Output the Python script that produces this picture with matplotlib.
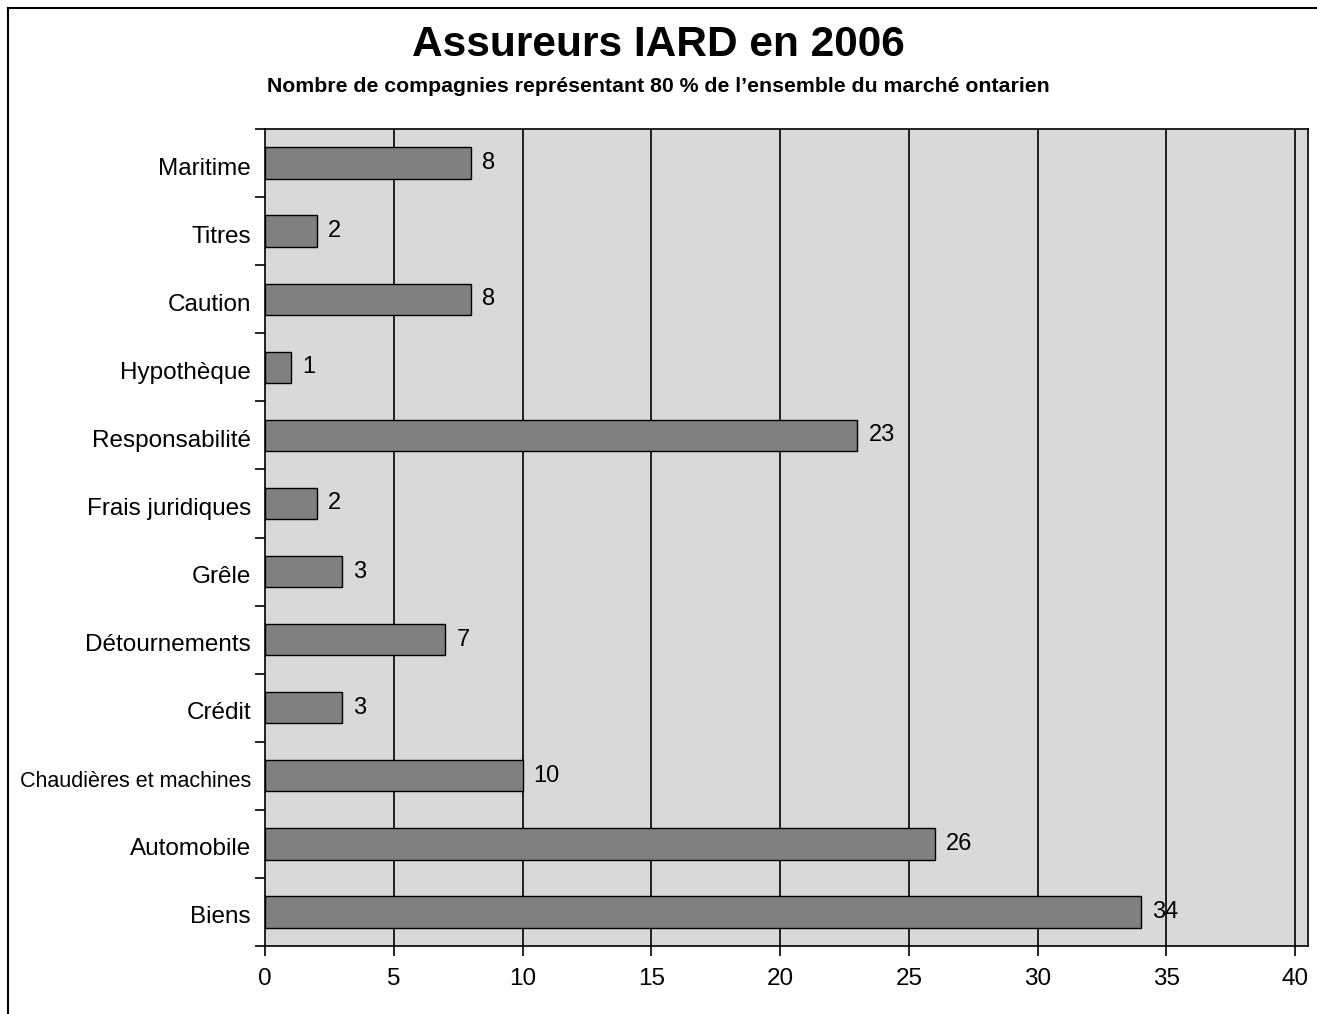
import matplotlib
matplotlib.use('Agg')
import matplotlib.pyplot as plt
from matplotlib.lines import Line2D
from matplotlib.transforms import ScaledTranslation
import numpy as np

plt.rcParams['font.family'] = ['Liberation Sans', 'DejaVu Sans']

categories = ['Maritime', 'Titres', 'Caution', 'Hypothèque', 'Responsabilité',
              'Frais juridiques', 'Grêle', 'Détournements', 'Crédit',
              'Chaudières et machines', 'Automobile', 'Biens']
values = [8, 2, 8, 1, 23, 2, 3, 7, 3, 10, 26, 34]
xticks = [0, 5, 10, 15, 20, 25, 30, 35, 40]

title = 'Assureurs IARD en 2006'
subtitle = 'Nombre de compagnies représentant 80 % de l\u2019ensemble du marché ontarien'

W, H = 1317, 1014
fig = plt.figure(figsize=(W / 100, H / 100), dpi=100)
ax = fig.add_axes([265 / W, 1 - 946 / H, (1308 - 265) / W, (946 - 129) / H])
ax.set_facecolor('#d9d9d9')

y = np.arange(len(categories))
ax.barh(y, values, height=0.46, color='#808080', edgecolor='black', linewidth=1.0, zorder=3)
for yi, v in zip(y, values):
    ax.annotate(str(v), (v, yi), xytext=(8, 0), textcoords='offset points',
                va='center', ha='left', fontsize=17, zorder=4)

ax.set_ylim(len(categories) - 0.5, -0.5)
ax.set_xlim(0, 40.5)

ax.set_xticks(xticks)
ax.set_xticklabels([str(t) for t in xticks], fontsize=17.5)
ax.tick_params(axis='x', direction='out', length=7, width=1.2, pad=9, color='black')
for t in xticks[1:]:
    ax.axvline(t, color='black', linewidth=1.2, zorder=2)

ax.set_yticks(y)
ax.set_yticklabels(categories, fontsize=17.5)
ax.set_yticks(np.arange(-0.5, len(categories), 1), minor=True)
ax.tick_params(axis='y', which='major', length=0, pad=10)
ax.tick_params(axis='y', which='minor', direction='out', length=7, width=1.2, color='black')
shift = ScaledTranslation(0, -3 / 100, fig.dpi_scale_trans)
for lab in ax.get_yticklabels():
    lab.set_transform(lab.get_transform() + shift)
    if len(lab.get_text()) > 20:
        lab.set_fontsize(15.5)  # long label squeezed to fit

for s in ax.spines.values():
    s.set_color('black')
    s.set_linewidth(1.2)
    s.set_zorder(5)

fig.text(0.5, 1 - 45 / H, title, ha='center', va='center', fontsize=30.5, fontweight='bold')
fig.text(0.5, 1 - 87 / H, subtitle, ha='center', va='center', fontsize=15.3, fontweight='bold')

# frame around the figure
fig.add_artist(Line2D([8 / W, 8 / W], [0, 1 - 8 / H], transform=fig.transFigure, color='black', linewidth=1.5))
fig.add_artist(Line2D([8 / W, 1], [1 - 8 / H, 1 - 8 / H], transform=fig.transFigure, color='black', linewidth=1.5))

fig.savefig('out.png', dpi=100)
